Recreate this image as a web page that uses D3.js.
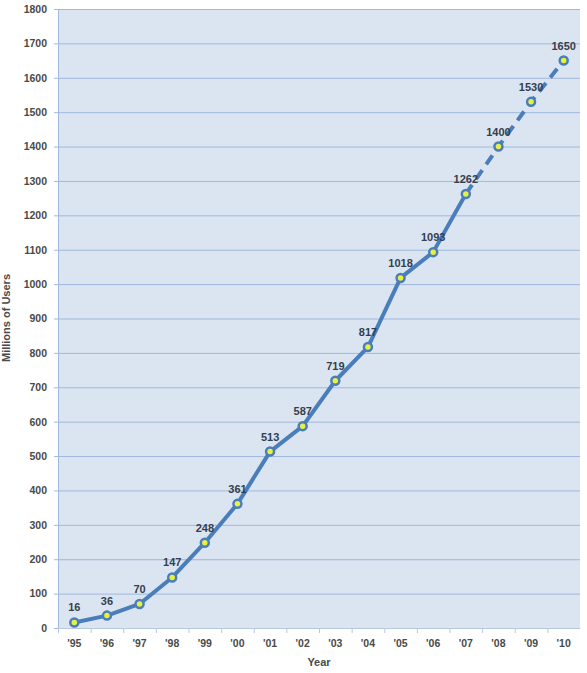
<html>
<head>
    <script src="https://d3js.org/d3.v7.min.js"></script>
    <style>
        body { margin: 0; background: #fff; }
        svg text { font-family: "Liberation Sans", Arial, sans-serif; font-weight: bold; }
        .tick text { font-size: 10.5px; fill: #4a4a4a; }
        .lbl { font-size: 11px; fill: #343e4e; text-anchor: middle; }
        .title { font-size: 11px; fill: #4a4a4a; text-anchor: middle; }
    </style>
</head>
<body>
<script>
    var years = ["'95", "'96", "'97", "'98", "'99", "'00", "'01", "'02",
                 "'03", "'04", "'05", "'06", "'07", "'08", "'09", "'10"];
    var users = [16, 36, 70, 147, 248, 361, 513, 587, 719, 817, 1018, 1093, 1262, 1400, 1530, 1650];
    var yTicks = d3.range(0, 1801, 100);
    var lastActual = 12; // '07, projections after

    var width = 587, height = 673,
        plotLeft = 58, plotRight = 580, plotTop = 9, plotBottom = 628;

    var svg = d3.select("body").append("svg")
        .attr("width", width)
        .attr("height", height);

    var x = d3.scaleBand().domain(years).range([plotLeft, plotRight]);
    var y = d3.scaleLinear().domain([0, 1800]).range([plotBottom, plotTop]);

    svg.append("rect")
        .attr("x", plotLeft).attr("y", plotTop)
        .attr("width", plotRight - plotLeft).attr("height", plotBottom - plotTop)
        .attr("fill", "#dbe5f1");

    // gridlines
    svg.append("g").selectAll("line")
        .data(yTicks.slice(1))
        .enter().append("line")
        .attr("x1", plotLeft).attr("x2", plotRight)
        .attr("y1", function (d) { return y(d) + 0.5; })
        .attr("y2", function (d) { return y(d) + 0.5; })
        .attr("stroke", "#9fb8dc").attr("stroke-width", 1);

    var yAxis = svg.append("g")
        .attr("transform", "translate(" + plotLeft + ",0)")
        .call(d3.axisLeft(y).tickValues(yTicks).tickFormat(d3.format("d"))
            .tickSize(4).tickPadding(7));
    yAxis.select(".domain").attr("stroke", "#9fb8dc");
    yAxis.selectAll(".tick line").attr("stroke", "#9fb8dc");

    var xAxis = svg.append("g")
        .attr("transform", "translate(0," + plotBottom + ")")
        .call(d3.axisBottom(x).tickSize(0).tickPadding(12));
    xAxis.select(".domain").attr("stroke", "#b8c8e0");

    // tick marks between categories
    svg.append("g").selectAll("line")
        .data(years)
        .enter().append("line")
        .attr("x1", function (d) { return x(d) + 0.5; })
        .attr("x2", function (d) { return x(d) + 0.5; })
        .attr("y1", plotBottom).attr("y2", plotBottom + 5)
        .attr("stroke", "#b8c8e0");

    var cx = function (i) { return x(years[i]) + x.bandwidth() / 2; };

    var actual = users.slice(0, lastActual + 1);
    var proj = users.slice(lastActual);

    svg.append("path")
        .attr("d", d3.line()
            .x(function (d, i) { return cx(i); })
            .y(function (d) { return y(d); })(actual))
        .attr("fill", "none")
        .attr("stroke", "#4a7ebb")
        .attr("stroke-width", 4)
        .attr("stroke-linejoin", "round");

    svg.append("path")
        .attr("d", d3.line()
            .x(function (d, i) { return cx(i + lastActual); })
            .y(function (d) { return y(d); })(proj))
        .attr("fill", "none")
        .attr("stroke", "#4a7ebb")
        .attr("stroke-width", 4)
        .attr("stroke-dasharray", "11,7");

    var pts = svg.append("g").selectAll("g")
        .data(users)
        .enter().append("g")
        .attr("transform", function (d, i) {
            return "translate(" + cx(i) + "," + y(d) + ")";
        });

    pts.append("circle")
        .attr("r", 4)
        .attr("fill", "#e8f040")
        .attr("stroke", "#4a7ebb")
        .attr("stroke-width", 2.5);

    pts.append("text")
        .attr("class", "lbl")
        .attr("y", -11)
        .text(function (d) { return d; });

    svg.append("text")
        .attr("class", "title")
        .attr("x", 319).attr("y", 666)
        .text("Year");

    svg.append("text")
        .attr("class", "title")
        .attr("transform", "translate(10,318) rotate(-90)")
        .text("Millions of Users");
</script>
</body>
</html>
